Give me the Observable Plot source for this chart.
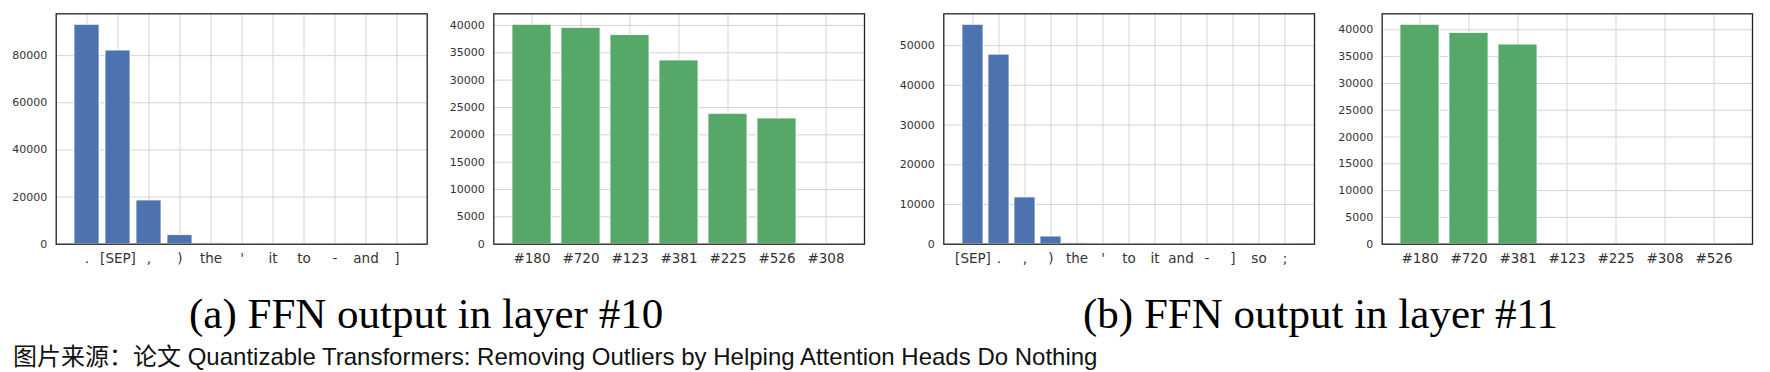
<!DOCTYPE html>
<html>
<head>
<meta charset="utf-8">
<script src="https://cdn.jsdelivr.net/npm/d3@7"></script>
<script src="https://cdn.jsdelivr.net/npm/@observablehq/plot@0.6"></script>
<style>
  html, body { margin: 0; padding: 0; background: #fff; }
  #root { position: relative; width: 1770px; height: 372px; overflow: hidden; background: #fff; }
  .panel { position: absolute; top: 0; }
  .panel svg { background: transparent !important; display: block; }
  .cap { position: absolute; white-space: nowrap; font-family: "Liberation Serif", "Times New Roman", serif; font-size: 43px; line-height: 43px; color: #000; }
  .src { position: absolute; white-space: nowrap; font-family: "Liberation Sans", Arial, "Noto Sans CJK SC", sans-serif; font-size: 24px; line-height: 24px; color: #111; }
</style>
</head>
<body>
<div id="root"></div>
<script>
// ---- data ----
// (a) layer #10 — tokens
const tokens10 = [".", "[SEP]", ",", ")", "the", "'", "it", "to", "-", "and", "]"];
const tokenCounts10 = [93100, 82170, 18560, 3825, 350, 180, 120, 90, 70, 60, 50];
const tokenTicks10 = [0, 20000, 40000, 60000, 80000];
// (a) layer #10 — hidden dims
const dims10 = ["#180", "#720", "#123", "#381", "#225", "#526", "#308"];
const dimCounts10 = [40130, 39570, 38230, 33600, 23850, 22990, 60];
const dimTicks10 = [0, 5000, 10000, 15000, 20000, 25000, 30000, 35000, 40000];
// (b) layer #11 — tokens
const tokens11 = ["[SEP]", ".", ",", ")", "the", "'", "to", "it", "and", "-", "]", "so", ";"];
const tokenCounts11 = [55250, 47730, 11770, 1930, 250, 120, 90, 70, 60, 50, 40, 30, 20];
const tokenTicks11 = [0, 10000, 20000, 30000, 40000, 50000];
// (b) layer #11 — hidden dims
const dims11 = ["#180", "#720", "#381", "#123", "#225", "#308", "#526"];
const dimCounts11 = [40950, 39440, 37260, 60, 40, 30, 20];
const dimTicks11 = [0, 5000, 10000, 15000, 20000, 25000, 30000, 35000, 40000];

const captionA = "(a) FFN output in layer #10";
const captionB = "(b) FFN output in layer #11";
const sourceText = "图片来源：论文 Quantizable Transformers: Removing Outliers by Helping Attention Heads Do Nothing";

const BLUE = "#4C72B0";
const GREEN = "#55A868";

const root = document.getElementById("root");

function panel({names, values, ticks, color, left, width, ml, mr, po}) {
  const data = names.map((n, i) => ({name: n, value: values[i]}));
  const ymax = d3.max(values) * 1.05;
  const plot = Plot.plot({
    width, height: 270,
    marginLeft: ml, marginRight: mr, marginTop: 13.3, marginBottom: 26.3,
    style: {background: "transparent", fontFamily: "DejaVu Sans", color: "#333"},
    x: {domain: names, paddingInner: 0.2, paddingOuter: po, label: null},
    y: {domain: [0, ymax], label: null},
    marks: [
      Plot.gridX({stroke: "#d4d4d4", strokeOpacity: 1, strokeWidth: 1}),
      Plot.gridY(ticks, {stroke: "#d4d4d4", strokeOpacity: 1, strokeWidth: 1}),
      Plot.barY(data, {x: "name", y: "value", fill: color, stroke: "#ffffff", strokeWidth: 0.8}),
      Plot.axisX({tickSize: 0, tickPadding: 9.5, fontSize: 13.5, label: null}),
      Plot.axisY(ticks, {tickSize: 0, tickPadding: 9, fontSize: 11, tickFormat: d => String(d), label: null}),
      Plot.frame({stroke: "#222222", strokeWidth: 1.3})
    ]
  });
  const div = document.createElement("div");
  div.className = "panel";
  div.style.left = left + "px";
  div.appendChild(plot);
  root.appendChild(div);
}

panel({names: tokens10, values: tokenCounts10, ticks: tokenTicks10, color: BLUE, left: 0, width: 430, ml: 55.7, mr: 3.3, po: 0.545});
panel({names: dims10, values: dimCounts10, ticks: dimTicks10, color: GREEN, left: 430, width: 450, ml: 63.3, mr: 16, po: 0.345});
panel({names: tokens11, values: tokenCounts11, ticks: tokenTicks11, color: BLUE, left: 880, width: 440, ml: 63.3, mr: 6, po: 0.65});
panel({names: dims11, values: dimCounts11, ticks: dimTicks11, color: GREEN, left: 1320, width: 450, ml: 61.7, mr: 18, po: 0.353});

function addText(cls, text, left, top) {
  const d = document.createElement("div");
  d.className = cls;
  d.textContent = text;
  d.style.left = left + "px";
  d.style.top = top + "px";
  root.appendChild(d);
}
addText("cap", captionA, 189, 292);
addText("cap", captionB, 1083, 292);
addText("src", sourceText, 13, 345);
</script>
</body>
</html>
